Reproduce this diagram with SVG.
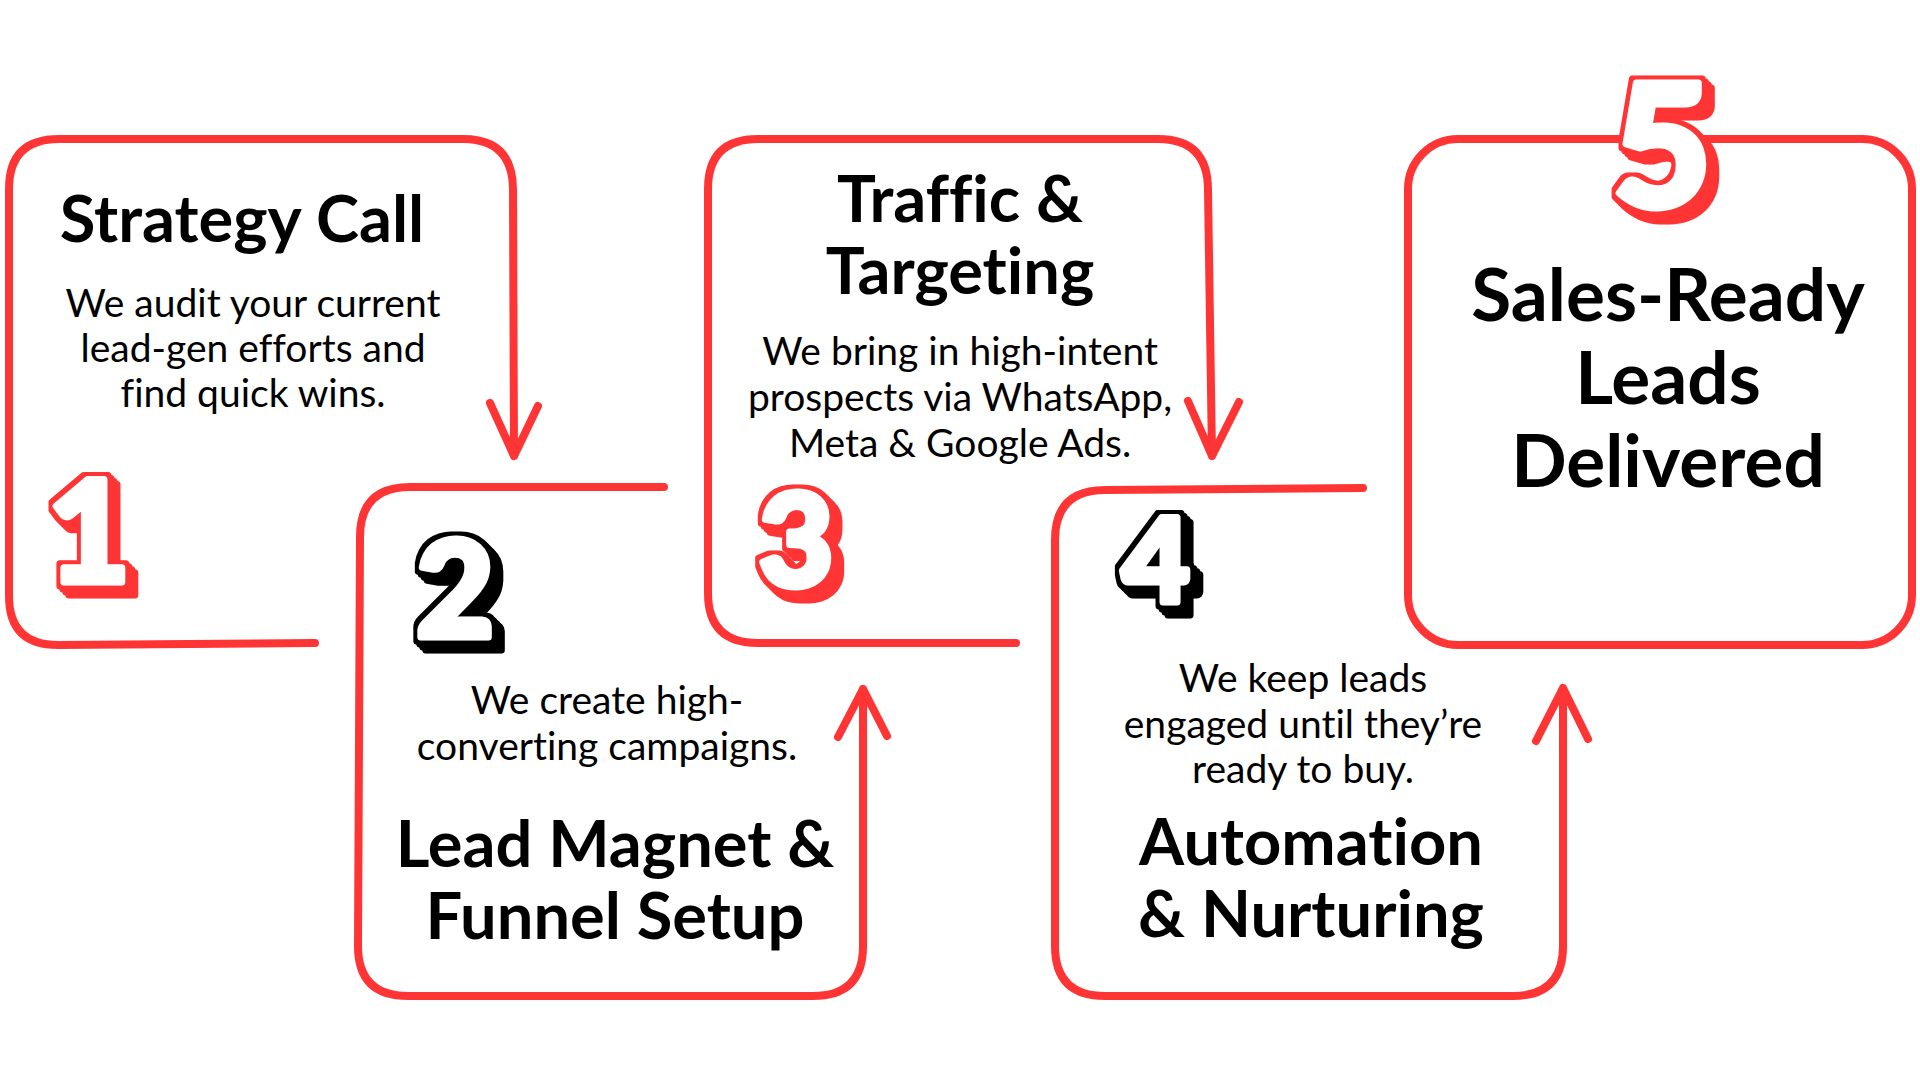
<svg xmlns="http://www.w3.org/2000/svg" width="1920" height="1080" viewBox="0 0 1920 1080">
<defs>
<filter id="exRed" x="-30%" y="-30%" width="170%" height="170%" color-interpolation-filters="sRGB">
  <feMorphology in="SourceAlpha" operator="dilate" radius="4" result="d"/>
  <feOffset in="d" dx="3" dy="3" result="o1"/>
  <feOffset in="d" dx="6" dy="6" result="o2"/>
  <feOffset in="d" dx="9" dy="9" result="o3"/>
  <feMerge result="m"><feMergeNode in="d"/><feMergeNode in="o1"/><feMergeNode in="o2"/><feMergeNode in="o3"/></feMerge>
  <feFlood flood-color="#FF3535"/>
  <feComposite in2="m" operator="in" result="ext"/>
  <feMerge><feMergeNode in="ext"/><feMergeNode in="SourceGraphic"/></feMerge>
</filter>
<filter id="exBlack" x="-30%" y="-30%" width="170%" height="170%" color-interpolation-filters="sRGB">
  <feMorphology in="SourceAlpha" operator="dilate" radius="4" result="d"/>
  <feOffset in="d" dx="3" dy="3" result="o1"/>
  <feOffset in="d" dx="6" dy="6" result="o2"/>
  <feOffset in="d" dx="9" dy="9" result="o3"/>
  <feMerge result="m"><feMergeNode in="d"/><feMergeNode in="o1"/><feMergeNode in="o2"/><feMergeNode in="o3"/></feMerge>
  <feFlood flood-color="#000000"/>
  <feComposite in2="m" operator="in" result="ext"/>
  <feMerge><feMergeNode in="ext"/><feMergeNode in="SourceGraphic"/></feMerge>
</filter>
</defs>
<style>
.edge{fill:none;stroke:#FF3535;stroke-width:8;stroke-linecap:round;stroke-linejoin:round}
.title{font-family:Lato,"Liberation Sans",sans-serif;font-weight:700;font-size:65px;fill:#000;text-anchor:middle;font-variant-ligatures:none}
.big{font-size:73px}
.body{font-family:Lato,"Liberation Sans",sans-serif;font-weight:400;font-size:39px;fill:#000;text-anchor:middle;font-variant-ligatures:none}
.num{font-family:Lato,"DejaVu Sans",sans-serif;font-weight:900;text-anchor:middle;fill:#fff;stroke:#fff;stroke-width:7;stroke-linejoin:round}
.red{filter:url(#exRed)}
.blk{filter:url(#exBlack)}
</style>
<rect width="1920" height="1080" fill="#fff"/>

<g id="connectors">
  <path class="edge" d="M513,190 L514,456 M490,403 L514,456 L538,406"/>
  <path class="edge" d="M863,946 L863,689 M838,737 L863,689 L887,736"/>
  <path class="edge" d="M1208,190 L1212,456 M1188,401 L1212,456 L1239,402"/>
  <path class="edge" d="M1563,946 L1563,688 M1536,741 L1563,688 L1588,739"/>
</g>

<g id="node1">
  <path class="edge" d="M315,643 L58,645 Q9,645 9,596 L9,189 Q9,139 59,139 L463,139 Q513,139 513,190"/>
  <text class="title" x="242" y="242">Strategy Call</text>
  <text class="body" x="253" y="317">We audit your current</text>
  <text class="body" x="253" y="362">lead-gen efforts and</text>
  <text class="body" x="253" y="407">find quick wins.</text>
  <text class="num red" x="89" y="582" font-size="142">1</text>
</g>

<g id="node2">
  <path class="edge" d="M664,487 L410,487 Q360,487 360,537 L358,946 Q358,996 408,996 L813,996 Q863,996 863,946"/>
  <text class="body" x="607" y="714">We create high-</text>
  <text class="body" x="607" y="760">converting campaigns.</text>
  <text class="title" x="615" y="867">Lead Magnet &amp;</text>
  <text class="title" x="615" y="939">Funnel Setup</text>
  <text class="num blk" x="455" y="637" font-size="134">2</text>
</g>

<g id="node3">
  <path class="edge" d="M1016,643 L758,643 Q708,643 708,593 L708,189 Q708,139 758,139 L1158,139 Q1208,139 1208,190"/>
  <text class="title" x="960" y="222">Traffic &amp;</text>
  <text class="title" x="960" y="294">Targeting</text>
  <text class="body" x="960" y="365">We bring in high-intent</text>
  <text class="body" x="960" y="411">prospects via WhatsApp,</text>
  <text class="body" x="960" y="457">Meta &amp; Google Ads.</text>
  <text class="num red" x="796" y="586" font-size="128">3</text>
</g>

<g id="node4">
  <path class="edge" d="M1363,488 L1105,490 Q1055,490 1055,540 L1055,946 Q1055,996 1105,996 L1513,996 Q1563,996 1563,946"/>
  <text class="body" x="1303" y="692">We keep leads</text>
  <text class="body" x="1303" y="738">engaged until they’re</text>
  <text class="body" x="1303" y="783">ready to buy.</text>
  <text class="title" x="1311" y="865">Automation</text>
  <text class="title" x="1311" y="937">&amp; Nurturing</text>
  <text class="num blk" x="1156" y="602" font-size="116">4</text>
</g>

<g id="node5">
  <rect class="edge" x="1408" y="139" width="504" height="506" rx="50" ry="50"/>
  <text class="title big" x="1668" y="321">Sales-Ready</text>
  <text class="title big" x="1668" y="404">Leads</text>
  <text class="title big" x="1668" y="487">Delivered</text>
  <text class="num red" x="1662" y="207" font-size="170">5</text>
</g>
</svg>
